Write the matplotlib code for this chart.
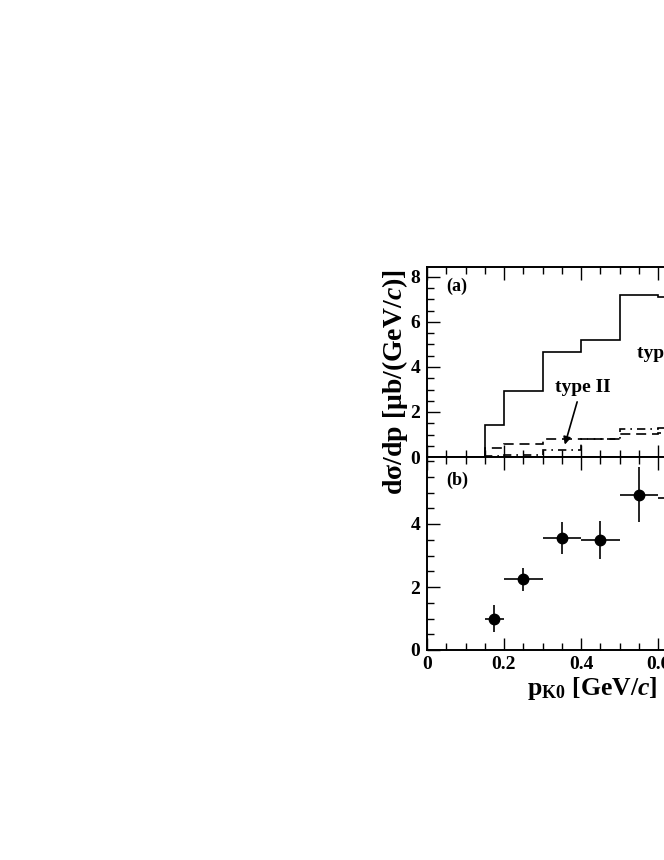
import matplotlib
matplotlib.use("Agg")
import matplotlib.pyplot as plt
from matplotlib.ticker import MultipleLocator

plt.rcParams['font.family'] = ['Liberation Serif', 'DejaVu Serif']
plt.rcParams['font.weight'] = 'bold'
plt.rcParams['mathtext.fontset'] = 'custom'
plt.rcParams['mathtext.rm'] = 'Liberation Serif:bold'
plt.rcParams['mathtext.bf'] = 'Liberation Serif:bold'
plt.rcParams['mathtext.it'] = 'Liberation Serif:italic:bold'

# ---- data ----
# panel (a): histograms
edges_I = [0.0, 0.15, 0.2, 0.3, 0.4, 0.5, 0.6, 0.7]
type_I = [0.0, 1.42, 2.92, 4.65, 5.18, 7.2, 7.1]
edges_II = [0.15, 0.2, 0.3, 0.4, 0.5, 0.6, 0.7]
type_II = [0.42, 0.58, 0.78, 0.81, 1.04, 1.05]
edges_III = [0.15, 0.2, 0.3, 0.4, 0.5, 0.6, 0.7]
type_III = [0.05, 0.1, 0.3, 0.8, 1.24, 1.28]

# panel (b): data points
p_x = [0.175, 0.25, 0.35, 0.45, 0.55, 0.65]
p_xlo = [0.15, 0.2, 0.3, 0.4, 0.5, 0.6]
p_xhi = [0.2, 0.3, 0.4, 0.5, 0.6, 0.7]
p_y = [0.99, 2.24, 3.55, 3.50, 4.93, 4.82]
p_yerr = [0.43, 0.37, 0.50, 0.60, 0.88, 0.80]

W, H = 664, 860
fig = plt.figure(figsize=(W / 100, H / 100), dpi=100)

left = 427 / W
xw = 385 / W  # 0..1.0
top_px, mid_px, bot_px = 267, 457, 650
axa = fig.add_axes([left, 1 - mid_px / H, xw, (mid_px - top_px) / H])
axb = fig.add_axes([left, 1 - bot_px / H, xw, (bot_px - mid_px) / H])

lw = 1.2
axa.stairs(type_I, edges_I, color='black', lw=lw, baseline=None)
axa.stairs(type_II, edges_II, color='black', lw=lw, baseline=0, linestyle=(0, (6, 3.5)))
axa.stairs(type_III, edges_III, color='black', lw=lw, baseline=0, linestyle=(0, (5, 3, 1, 3)))

axa.set_xlim(0, 1.0)
axa.set_ylim(0, (mid_px - top_px) / 22.5)
axb.set_xlim(0, 1.0)
axb.set_ylim(0, (bot_px - mid_px) / 31.5)

xerr = [[x - lo for x, lo in zip(p_x, p_xlo)], [hi - x for x, hi in zip(p_x, p_xhi)]]
axb.errorbar(p_x, p_y, xerr=xerr, yerr=p_yerr, fmt='o', color='black', ms=7.5,
             elinewidth=1.2, capsize=0)

for ax in (axa, axb):
    ax.xaxis.set_major_locator(MultipleLocator(0.2))
    ax.xaxis.set_minor_locator(MultipleLocator(0.05))
    ax.yaxis.set_major_locator(MultipleLocator(2))
    ax.yaxis.set_minor_locator(MultipleLocator(0.5))
    ax.tick_params(which='both', direction='in', top=True, right=True, width=1.0,
                   labelsize=14)
    ax.tick_params(which='major', length=9)
    ax.tick_params(which='minor', length=5)
    ax.tick_params(axis='y', pad=5)
    for s in ax.spines.values():
        s.set_linewidth(1.4)

axa.tick_params(labelbottom=False)
axa.set_yticks([0, 2, 4, 6, 8])
axb.set_yticks([0, 2, 4])
axb.set_xticks([0, 0.2, 0.4, 0.6, 0.8, 1.0])
axb.set_xticklabels(['0', '0.2', '0.4', '0.6', '0.8', '1'])
axb.tick_params(axis='x', pad=4)
for lab in axb.get_xticklabels() + axb.get_yticklabels() + axa.get_yticklabels():
    lab.set_fontweight('bold')

axa.text(0.049, 7.58, '(a)', fontsize=13, fontweight='bold', va='center', ha='left')
axb.text(0.049, 5.4, '(b)', fontsize=13, fontweight='bold', va='center', ha='left')
axa.text(0.406, 3.1, 'type II', fontsize=14, fontweight='bold', va='center', ha='center')
axa.text(0.545, 4.58, 'type I', fontsize=14, fontweight='bold', va='center', ha='left')
axa.annotate('', xy=(0.358, 0.55), xytext=(0.39, 2.45),
             arrowprops=dict(arrowstyle='-|>', color='black', lw=1.2,
                             mutation_scale=11, shrinkA=0, shrinkB=0))

fig.text(395 / W, 1 - 382.5 / H, 'dσ/dp [μb/(GeV/$\\mathit{c}$)]',
         rotation=90, fontsize=20, fontweight='bold', ha='center', va='center')
fig.text(527 / W, 1 - 695 / H, r'p$_{\mathrm{K0}}$ [GeV/$\mathit{c}$]',
         fontsize=18.5, fontweight='bold', ha='left', va='baseline')

fig.savefig('out.png', dpi=100)
